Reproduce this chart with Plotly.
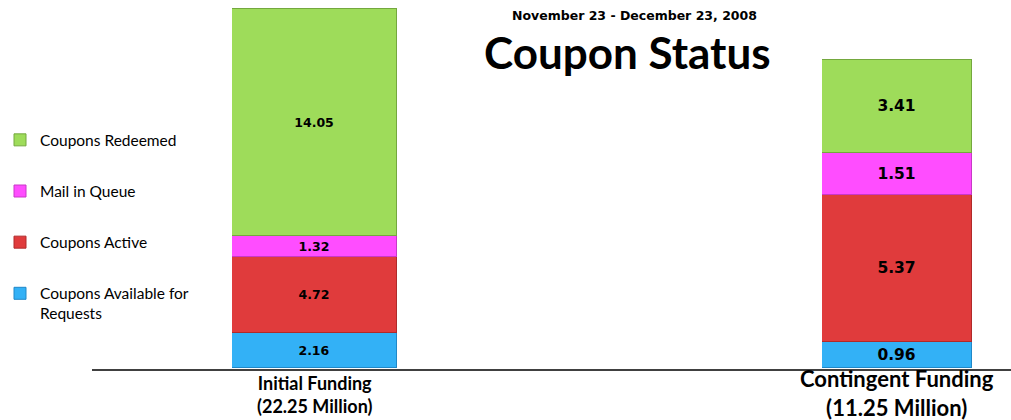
import plotly.graph_objects as go

categories = ["Initial Funding", "Contingent Funding"]
cat_totals = ["(22.25 Million)", "(11.25 Million)"]
series_names = ["Coupons Available for<br>Requests", "Coupons Active", "Mail in Queue", "Coupons Redeemed"]
available = [2.16, 0.96]
active = [4.72, 5.37]
mail = [1.32, 1.51]
redeemed = [14.05, 3.41]
subtitle = "November 23 - December 23, 2008"
title = "Coupon Status"

values = [available, active, mail, redeemed]
colors = ["#33B1F6", "#E03B3C", "#FF4DFF", "#9EDC5A"]
edges = ["#2088C8", "#B02A2A", "#C838C8", "#74A83E"]

W, H = 1011, 420
fig = go.Figure()

for si, (name, vals, c, e) in enumerate(zip(series_names, values, colors, edges)):
    for bi in range(2):
        fig.add_trace(go.Bar(
            x=[categories[bi]], y=[vals[bi]],
            name=name, legendgroup=f"g{si}", showlegend=(bi == 0),
            legendrank=len(series_names) - si,
            marker=dict(color=c, line=dict(color=e, width=1)),
            text=[f"{vals[bi]:.2f}"], textposition="inside", insidetextanchor="middle",
            constraintext="none",
            textfont=dict(family="DejaVu Sans", size=12.5 if bi == 0 else 15.5, color="black", weight="bold"),
            xaxis="x" if bi == 0 else "x2", yaxis="y" if bi == 0 else "y2",
            hoverinfo="skip",
        ))

label_specs = [(315, 18, 394), (897, 22, 393)]
ann = [
    dict(text=subtitle, x=634 / W, y=1 - 15 / 368, xref="paper", yref="paper",
         xanchor="center", yanchor="middle",
         showarrow=False, font=dict(family="DejaVu Sans", size=12.5, color="black", weight="bold")),
    dict(text=title, x=627 / W, y=1 - 52 / 368, xref="paper", yref="paper",
         xanchor="center", yanchor="middle",
         showarrow=False, font=dict(family="Lato", size=44, color="black", weight="bold")),
]
for (cx, fs, py), cat, tot in zip(label_specs, categories, cat_totals):
    ann.append(dict(text=f"{cat}<br>{tot}", x=cx / W, y=(368 - py) / 368, xref="paper", yref="paper",
                    xanchor="center", yanchor="middle", showarrow=False,
                    font=dict(family="Lato", size=fs, color="black", weight="bold")))

fig.update_layout(
    width=W, height=H,
    margin=dict(l=0, r=0, t=0, b=52, autoexpand=False),
    paper_bgcolor="white", plot_bgcolor="rgba(0,0,0,0)",
    barmode="stack", bargap=0,
    xaxis=dict(domain=[232 / W, 397 / W], range=[-0.5, 0.5], visible=False),
    xaxis2=dict(domain=[822 / W, 972 / W], range=[-0.5, 0.5], visible=False),
    yaxis=dict(range=[0, 22.81], visible=False),
    yaxis2=dict(range=[0, 13.44], visible=False, anchor="x2"),
    showlegend=True,
    legend=dict(x=0, xanchor="left", y=0.665, yanchor="top", traceorder="grouped",
                tracegroupgap=28, valign="top",
                font=dict(family="Lato", size=15.5, color="black"), bgcolor="rgba(0,0,0,0)"),
    shapes=[dict(type="line", xref="paper", yref="paper", x0=92 / W, x1=1,
                 y0=-2 / 368, y1=-2 / 368, line=dict(color="black", width=1.5))],
    annotations=ann,
)

fig.write_html("out.html")
